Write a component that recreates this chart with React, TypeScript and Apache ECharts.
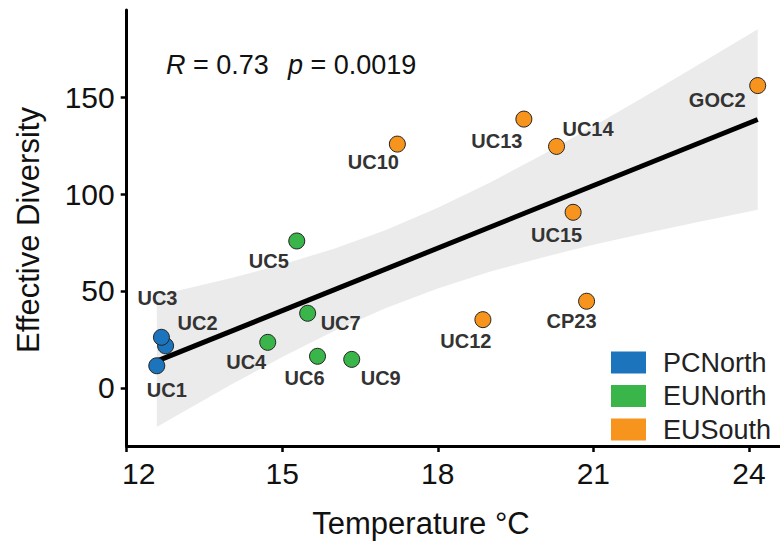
import React, { useEffect, useRef } from 'react';
import * as echarts from 'echarts';

// ---- data ----
const xTicks = [12, 15, 18, 21, 24];
const yTicks = [0, 50, 100, 150];

const groupNames = ['PCNorth', 'EUNorth', 'EUSouth'];
const groupColors = ['#1c75bc', '#39b54a', '#f7941d'];

const pcNorthSites = ['UC1', 'UC2', 'UC3'];
const pcNorthTemp = [12.58, 12.75, 12.67];
const pcNorthDiversity = [11.4, 21.7, 26.1];

const euNorthSites = ['UC4', 'UC5', 'UC6', 'UC7', 'UC9'];
const euNorthTemp = [14.72, 15.28, 15.68, 15.49, 16.34];
const euNorthDiversity = [23.5, 75.8, 16.3, 38.5, 14.7];

const euSouthSites = ['UC10', 'UC12', 'UC13', 'UC14', 'UC15', 'CP23', 'GOC2'];
const euSouthTemp = [17.22, 18.87, 19.66, 20.29, 20.61, 20.87, 24.17];
const euSouthDiversity = [125.8, 35.2, 138.7, 124.6, 90.6, 44.7, 156.0];

const fitTemp = [12.58, 24.17];
const fitDiversity = [13.8, 138.5];

const bandTemp = [12.58, 13, 14, 15, 16, 17, 18, 19, 20, 21, 22, 23, 24.17];
const bandLower = [-20.2, -13.7, 1.5, 15.9, 29.3, 41.2, 51.3, 59.9, 67.2, 73.8, 79.8, 85.5, 91.9];
const bandUpper = [47.7, 50.3, 56.6, 63.7, 71.8, 81.5, 92.9, 105.8, 120.0, 135.0, 150.5, 166.3, 185.1];

// label placement (pixel offsets from the point centre)
const labelOffsets: Record<string, [number, number]> = {
  UC1: [10, 24], UC2: [32, -23], UC3: [-4, -39],
  UC4: [-21.5, 20], UC5: [-28, 20], UC6: [-13, 22], UC7: [33, 10], UC9: [29, 18.5],
  UC10: [-24, 18], UC12: [-17, 21], UC13: [-27, 22], UC14: [31.5, -17],
  UC15: [-16.5, 23], CP23: [-15, 20], GOC2: [-40.5, 14],
};

const FONT = '"Liberation Sans", Arial, Helvetica, sans-serif';

function buildPoints(sites: string[], temps: number[], divs: number[]) {
  return sites.map((s, i) => ({
    name: s,
    value: [temps[i], divs[i]],
    label: { offset: labelOffsets[s] },
  }));
}

export default function App() {
  const ref = useRef<HTMLDivElement>(null);

  useEffect(() => {
    if (!ref.current) return;
    const chart = echarts.init(ref.current, undefined, { renderer: 'svg' });

    const groups = [
      buildPoints(pcNorthSites, pcNorthTemp, pcNorthDiversity),
      buildPoints(euNorthSites, euNorthTemp, euNorthDiversity),
      buildPoints(euSouthSites, euSouthTemp, euSouthDiversity),
    ];

    const scatterSeries = groups.map((data, gi) => ({
      type: 'scatter',
      name: groupNames[gi],
      data,
      symbol: 'circle',
      symbolSize: 16,
      z: 5,
      itemStyle: { color: groupColors[gi], borderColor: '#222', borderWidth: 1, opacity: 1 },
      label: {
        show: true,
        position: 'inside',
        formatter: (p: any) => p.name,
        fontFamily: FONT,
        fontWeight: 'bold',
        fontSize: 20,
        color: '#333',
        align: 'center',
        verticalAlign: 'middle',
      },
      emphasis: { disabled: true },
    }));

    const option: any = {
      animation: false,
      backgroundColor: '#ffffff',
      grid: { left: 126.7, right: 0, top: 10, bottom: 96, containLabel: false },
      xAxis: {
        type: 'value',
        min: 12,
        max: 24.6,
        splitLine: { show: false },
        axisLine: { onZero: false, lineStyle: { color: '#000', width: 3 } },
        axisTick: { show: true, customValues: xTicks, length: 6, lineStyle: { color: '#000', width: 2.5 } },
        axisLabel: {
          customValues: xTicks,
          fontSize: 30,
          fontFamily: FONT,
          color: '#111',
          margin: 12,
          formatter: (v: number) => (v === 12 ? '{s|12}' : String(v)),
          rich: { s: { fontSize: 30, fontFamily: FONT, color: '#111', padding: [0, 0, 0, 24] } },
        },
      },
      yAxis: {
        type: 'value',
        min: -30,
        max: 195,
        splitLine: { show: false },
        axisLine: { show: true, onZero: false, lineStyle: { color: '#000', width: 3 } },
        axisTick: { show: true, customValues: yTicks, length: 6, lineStyle: { color: '#000', width: 2.5 } },
        axisLabel: { customValues: yTicks, fontSize: 30, fontFamily: FONT, color: '#111', margin: 12 },
      },
      legend: {
        orient: 'vertical',
        left: 611,
        top: 349,
        padding: 0,
        itemWidth: 35,
        itemHeight: 22,
        itemGap: 6.5,
        icon: 'rect',
        itemStyle: { borderWidth: 0 },
        textStyle: { fontSize: 27, fontFamily: FONT, color: '#222', lineHeight: 22, padding: [0, 0, 0, 12] },
        data: groupNames,
        selectedMode: false,
      },
      graphic: [
        {
          type: 'text', x: 166, y: 65, z: 10,
          style: {
            text: '{i|R} = 0.73', fontSize: 27, fontFamily: FONT, fill: '#111', verticalAlign: 'middle',
            rich: { i: { fontStyle: 'italic', fontSize: 27, fontFamily: FONT, fill: '#111' } },
          },
        },
        {
          type: 'text', x: 288, y: 65, z: 10,
          style: {
            text: '{i|p} = 0.0019', fontSize: 27, fontFamily: FONT, fill: '#111', verticalAlign: 'middle',
            rich: { i: { fontStyle: 'italic', fontSize: 27, fontFamily: FONT, fill: '#111' } },
          },
        },
        {
          type: 'text', x: 421, y: 523, z: 10,
          style: { text: 'Temperature °C', fontSize: 31, fontFamily: FONT, fill: '#111', align: 'center', verticalAlign: 'middle' },
        },
        {
          type: 'text', x: 28, y: 230, rotation: Math.PI / 2, z: 10,
          style: { text: 'Effective Diversity', fontSize: 31, fontFamily: FONT, fill: '#111', align: 'center', verticalAlign: 'middle' },
        },
      ],
      series: [
        {
          type: 'custom',
          name: 'ci',
          silent: true,
          z: 1,
          data: [[bandTemp[0], bandLower[0]]],
          renderItem: (_params: any, api: any) => {
            const upper = bandTemp.map((x, i) => api.coord([x, bandUpper[i]]));
            const lower = bandTemp.map((x, i) => api.coord([x, bandLower[i]])).reverse();
            return {
              type: 'polygon',
              shape: { points: upper.concat(lower) },
              style: { fill: '#ebebeb', stroke: 'none' },
            };
          },
        },
        {
          type: 'line',
          name: 'fit',
          silent: true,
          z: 2,
          symbol: 'none',
          data: fitTemp.map((x, i) => [x, fitDiversity[i]]),
          lineStyle: { color: '#000', width: 5 },
        },
        ...scatterSeries,
      ],
    };

    chart.setOption(option);
    return () => chart.dispose();
  }, []);

  return <div ref={ref} style={{ position: 'fixed', left: 0, top: 0, width: 780, height: 542 }} />;
}
